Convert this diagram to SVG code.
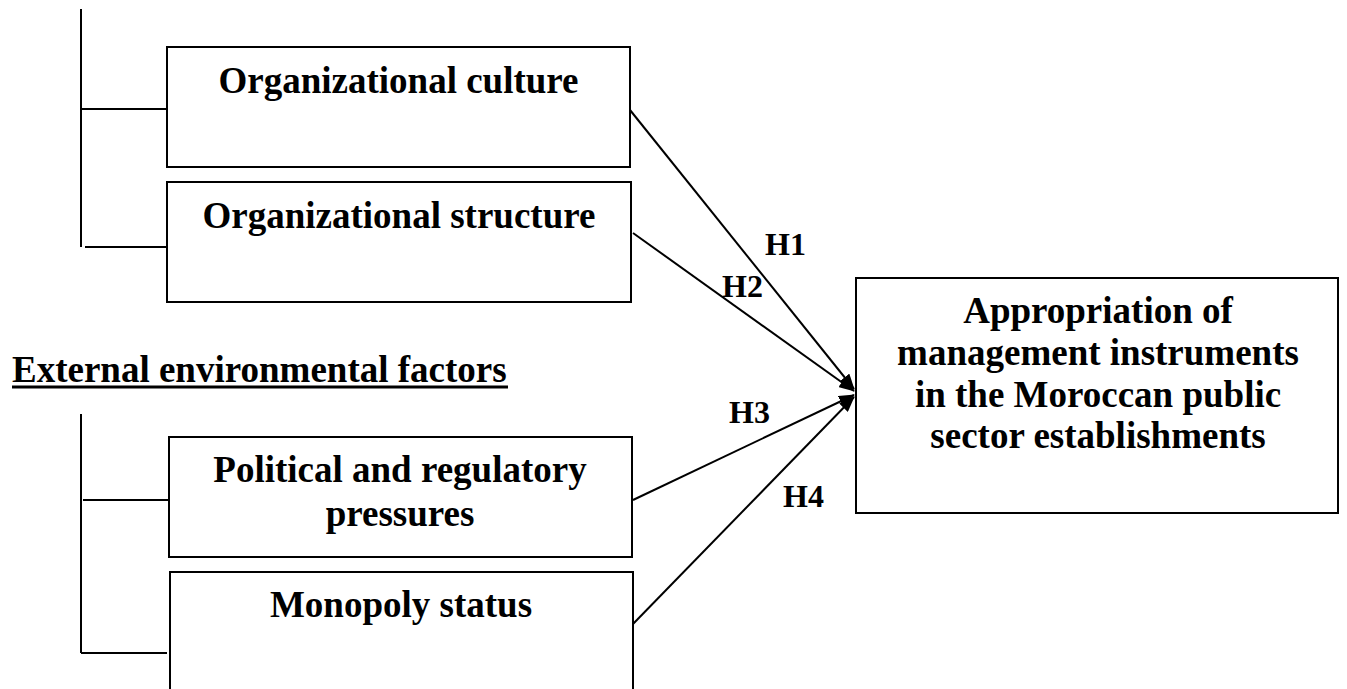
<svg xmlns="http://www.w3.org/2000/svg" width="1347" height="689" viewBox="0 0 1347 689">
<style>
.box{fill:#fff;stroke:#000;stroke-width:2}
.ln{stroke:#000;stroke-width:2;fill:none}
.t{font-family:"Liberation Serif","Times New Roman",serif;font-weight:bold;font-size:37px;fill:#000;text-anchor:middle}
.h{font-family:"Liberation Serif","Times New Roman",serif;font-weight:bold;font-size:32px;fill:#000}
</style>
<defs>
<marker id="arr" markerUnits="userSpaceOnUse" markerWidth="16" markerHeight="12" refX="15" refY="6" orient="auto">
<path d="M0,0 L16,6 L0,12 z" fill="#000"/>
</marker>
</defs>
<rect width="1347" height="689" fill="#fff"/>
<g id="brackets">
<path class="ln" d="M81,9 V247 M81,109 H167 M85,247 H171"/>
<path class="ln" d="M81,414 V653 M83,500 H169 M81,653 H167"/>
</g>
<g id="heading">
<text x="12" y="382" class="t" style="text-anchor:start">External environmental factors</text>
<rect x="12" y="385.5" width="496" height="3" fill="#000"/>
</g>
<g id="culture">
<rect class="box" x="167" y="47" width="463" height="120"/>
<text class="t" x="398.5" y="93">Organizational culture</text>
</g>
<g id="structure">
<rect class="box" x="167" y="182" width="464" height="120"/>
<text class="t" x="399" y="228">Organizational structure</text>
</g>
<g id="political">
<rect class="box" x="169" y="437" width="463" height="120"/>
<text class="t" x="400" y="482">Political and regulatory</text>
<text class="t" x="400" y="526">pressures</text>
</g>
<g id="monopoly">
<rect class="box" x="170" y="572" width="463" height="140"/>
<text class="t" x="401" y="617">Monopoly status</text>
</g>
<g id="appropriation">
<rect class="box" x="856" y="278" width="482" height="235"/>
<text class="t" x="1098" y="323">Appropriation of</text>
<text class="t" x="1098" y="365">management instruments</text>
<text class="t" x="1098" y="407">in the Moroccan public</text>
<text class="t" x="1098" y="448">sector establishments</text>
</g>
<g id="connectors">
<line class="ln" x1="630" y1="110" x2="854" y2="389" marker-end="url(#arr)"/>
<line class="ln" x1="633" y1="233" x2="854" y2="391" marker-end="url(#arr)"/>
<line class="ln" x1="633" y1="500" x2="854" y2="395" marker-end="url(#arr)"/>
<line class="ln" x1="633" y1="624" x2="854" y2="397" marker-end="url(#arr)"/>
<text class="h" x="765" y="255">H1</text>
<text class="h" x="722" y="297">H2</text>
<text class="h" x="729" y="423">H3</text>
<text class="h" x="783" y="507">H4</text>
</g>
</svg>
